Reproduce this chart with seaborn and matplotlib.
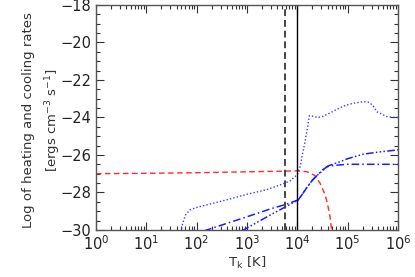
import numpy as np
import pandas as pd
import matplotlib
matplotlib.use("Agg")
import matplotlib.pyplot as plt
import seaborn as sns
from matplotlib.ticker import LogLocator, MultipleLocator, NullFormatter

# log10(T) and log10(rate)
red_logT = [0.0, 1.0, 2.0, 3.0, 4.0, 4.2, 4.35, 4.45, 4.55, 4.6, 4.65, 4.68, 4.70]
red_rate = [-27.0, -26.98, -26.95, -26.9, -26.85, -26.9, -27.1, -27.5, -28.1, -28.6, -29.3, -30.0, -30.6]

dot_logT = [1.68, 1.72, 1.78, 1.87, 2.0, 2.3, 2.66, 3.0, 3.4, 3.66, 3.85, 4.0, 4.06, 4.1, 4.16, 4.2, 4.24,
            4.3, 4.4, 4.5, 4.65, 4.8, 4.91, 5.1, 5.31, 5.41, 5.5, 5.58, 5.7, 5.78, 5.9, 6.0]
dot_rate = [-30.3, -29.7, -29.2, -28.93, -28.8, -28.6, -28.35, -28.1, -27.85, -27.6, -27.4, -27.05, -26.6,
            -26.0, -25.2, -24.6, -23.9, -23.93, -24.0, -23.95, -23.76, -23.55, -23.4, -23.25, -23.16, -23.18,
            -23.35, -23.7, -23.85, -23.95, -24.0, -24.0]

dd_logT = [2.15, 2.66, 3.0, 3.5, 3.76, 4.02, 4.1, 4.2, 4.3, 4.39, 4.5, 4.6, 4.75, 5.0, 5.5, 6.0]
dd_rate = [-30.05, -29.6, -29.3, -28.85, -28.65, -28.4, -28.1, -27.7, -27.35, -27.1, -26.8, -26.62, -26.55, -26.5, -26.5, -26.5]

ddd_logT = [2.9, 3.2, 3.5, 3.76, 4.02, 4.1, 4.2, 4.3, 4.39, 4.5, 4.6, 4.85, 5.0, 5.31, 5.6, 6.0]
ddd_rate = [-30.05, -29.6, -29.15, -28.78, -28.4, -28.1, -27.7, -27.35, -27.1, -26.85, -26.6, -26.36, -26.2, -25.96, -25.85, -25.73]

vline_dashed_T = 5750.0
vline_solid_T = 1.0e4

xticks = [1e0, 1e1, 1e2, 1e3, 1e4, 1e5, 1e6]
yticks = [-30, -28, -26, -24, -22, -20, -18]

sns.set_style("ticks")
plt.rcParams['font.family'] = ['DejaVu Sans']
plt.rcParams['mathtext.fontset'] = 'dejavusans'

fig = plt.figure(figsize=(4.15, 2.77), dpi=100)
ax = fig.add_axes([0.231, 0.170, 0.728, 0.812])

def df(lt, r):
    return pd.DataFrame({"T": 10.0 ** np.array(lt), "rate": r})

sns.lineplot(data=df(red_logT, red_rate), x="T", y="rate", ax=ax, color="#ff2a2a",
             linestyle=(0, (4, 2.5)), linewidth=1.0, sort=False)
sns.lineplot(data=df(dot_logT, dot_rate), x="T", y="rate", ax=ax, color="#3a3aff",
             linestyle=(0, (1, 1.5)), linewidth=1.0, sort=False)
sns.lineplot(data=df(dd_logT, dd_rate), x="T", y="rate", ax=ax, color="#1c1cff",
             linestyle=(0, (5, 2, 1, 2)), linewidth=1.1, sort=False)
sns.lineplot(data=df(ddd_logT, ddd_rate), x="T", y="rate", ax=ax, color="#1c1cff",
             linestyle=(0, (5, 1.5, 1, 1.5, 1, 1.5, 1, 1.5)), linewidth=1.1, sort=False)

ax.axvline(vline_dashed_T, color="#444444", linestyle=(0, (3.5, 2)), linewidth=1.4)
ax.axvline(vline_solid_T, color="black", linewidth=1.0)

ax.set_xscale("log")
ax.set_xlim(1, 1e6)
ax.set_ylim(-30, -18)
ax.set_xticks(xticks)
ax.set_yticks(yticks)
ax.set_yticklabels([f"\u2212{abs(v)}" for v in yticks])
ax.xaxis.set_minor_locator(LogLocator(base=10, subs=np.arange(2, 10), numticks=20))
ax.xaxis.set_minor_formatter(NullFormatter())
ax.yaxis.set_minor_locator(MultipleLocator(0.5))
ax.tick_params(which="both", direction="in", top=True, right=True, color="#333333",
               labelsize=10.5, labelcolor="#222222", width=0.8)
ax.tick_params(which="major", length=6)
ax.tick_params(which="minor", length=3)
for s in ax.spines.values():
    s.set_color("#555555")
    s.set_linewidth(1.0)

ax.set_xlabel(r"T$_{\rm k}$ [K]", fontsize=9.5, color="#333333", labelpad=1)
ax.set_ylabel("Log of heating and cooling rates\n[ergs cm$^{-3}$ s$^{-1}$]", fontsize=9.5,
              color="#333333", linespacing=1.6)
ax.yaxis.set_label_coords(-0.11, 0.49)

fig.savefig("out.png", dpi=100)
